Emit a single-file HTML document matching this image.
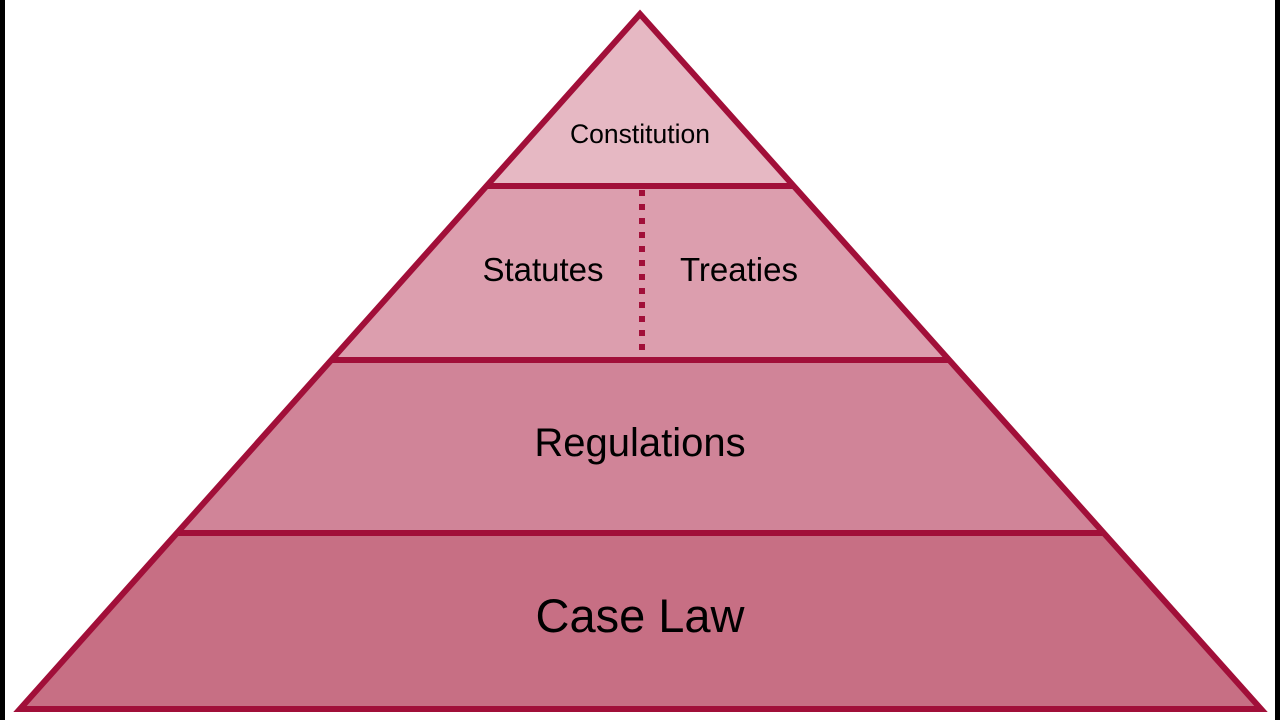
<!DOCTYPE html>
<html><head><meta charset="utf-8"><style>
html,body{margin:0;padding:0;background:#fff;width:1280px;height:720px;overflow:hidden}
</style></head><body>
<svg width="1280" height="720" viewBox="0 0 1280 720" xmlns="http://www.w3.org/2000/svg" font-family="Liberation Sans, Arial, sans-serif">
<rect x="0" y="0" width="1280" height="720" fill="#fff"/>
<rect x="0" y="0" width="5" height="720" fill="#000"/>
<rect x="1275" y="0" width="5" height="720" fill="#000"/>
<defs><clipPath id="tri"><polygon points="640,14 20,709 1261,709"/></clipPath></defs>
<g clip-path="url(#tri)">
<rect x="0" y="0" width="1280" height="186" fill="#e6b8c3"/>
<rect x="0" y="186" width="1280" height="174" fill="#dc9eae"/>
<rect x="0" y="360" width="1280" height="173" fill="#d08498"/>
<rect x="0" y="533" width="1280" height="190" fill="#c76f84"/>
<g stroke="#a10f39" stroke-width="6">
<line x1="0" y1="186" x2="1280" y2="186"/>
<line x1="0" y1="360" x2="1280" y2="360"/>
<line x1="0" y1="533" x2="1280" y2="533"/>
</g>
<line x1="642" y1="190" x2="642" y2="352" stroke="#a10f39" stroke-width="6" stroke-dasharray="6,8"/>
</g>
<polygon points="640,14 20,709 1261,709" fill="none" stroke="#a10f39" stroke-width="6" stroke-linejoin="miter"/>
<g fill="#000" text-anchor="middle">
<text x="640" y="143" font-size="26.5">Constitution</text>
<text x="543" y="281" font-size="33">Statutes</text>
<text x="739" y="281" font-size="33">Treaties</text>
<text x="640" y="456" font-size="40">Regulations</text>
<text x="640" y="632" font-size="47">Case Law</text>
</g>
</svg>
</body></html>
